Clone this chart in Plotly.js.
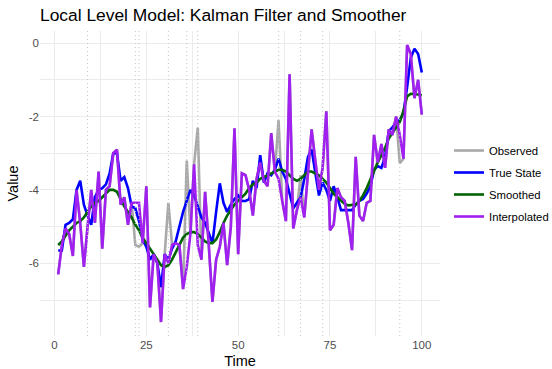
<!DOCTYPE html>
<html>
<head>
<meta charset="utf-8">
<script src="https://cdn.plot.ly/plotly-3.0.1.min.js"></script>
<style>html,body{margin:0;padding:0;background:#fff;}#chart{width:552px;height:369px;}</style>
</head>
<body>
<div id="chart"></div>
<script>
// ---- data ----
var nTime = 100;
var missingTimes = [9, 22, 23, 31, 36, 39, 61, 67, 73, 94];

var trueState = [
 -5.65,-5.65,-4.95,-4.9,-4.8,-4.0,-3.75,-4.4,-4.7,-4.95,
 -4.2,-4.0,-3.95,-3.85,-3.55,-3.0,-3.0,-3.75,-3.65,-3.95,
 -4.45,-4.5,-4.85,-5.35,-5.55,-5.9,-5.75,-6.0,-6.65,-5.75,
 -5.9,-5.6,-5.4,-5.0,-4.6,-4.3,-4.0,-4.15,-4.45,-4.75,
 -4.9,-5.2,-5.45,-4.6,-3.82,-4.35,-4.6,-4.4,-4.25,-4.15,
 -4.3,-4.3,-4.25,-3.75,-3.95,-3.05,-3.8,-3.55,-3.6,-3.45,
 -3.15,-3.5,-3.7,-4.1,-4.5,-4.35,-4.2,-3.7,-3.1,-2.9,
 -3.5,-4.15,-3.8,-4.0,-4.3,-3.9,-4.2,-4.55,-4.55,-4.55,
 -4.55,-4.4,-4.3,-4.25,-4.1,-3.9,-3.45,-3.35,-3.4,-3.1,
 -2.4,-2.3,-2.15,-2.1,-1.9,-1.2,-0.4,-0.15,-0.3,-0.8
];

var interpolated = [
 -6.3,-5.5,-5.05,-5.2,-5.8,-4.0,-4.9,-6.1,-5.0,-4.0,
 -4.9,-3.5,-5.6,-4.0,-3.9,-3.0,-2.9,-4.4,-4.2,-4.95,
 -4.35,-4.35,-4.35,-5.45,-3.9,-7.2,-5.75,-6.0,-7.6,-5.75,
 -6.0,-5.5,-5.45,-5.5,-6.7,-6.1,-5.2,-3.3,-5.5,-5.9,
 -4.05,-5.5,-7.05,-5.9,-5.55,-4.9,-6.05,-5.0,-2.32,-5.75,
 -3.55,-3.6,-4.0,-4.7,-3.7,-3.25,-3.75,-3.9,-2.45,-3.5,
 -3.7,-4.3,-4.85,-0.85,-5.05,-4.55,-4.2,-4.75,-3.5,-2.35,
 -3.2,-4.0,-3.4,-1.86,-5.1,-4.95,-3.95,-4.2,-4.3,-4.9,
 -5.64,-3.1,-4.7,-4.85,-4.35,-4.3,-2.5,-3.25,-2.75,-3.4,
 -2.35,-2.5,-2.0,-2.5,-3.15,-0.05,-0.3,-1.5,-1.0,-1.95
];

var observed = [
 -6.3,-5.5,-5.05,-5.2,-5.8,-4.0,-4.9,-6.1,-5.0,-4.0,
 -4.9,-3.5,-5.6,-4.0,-3.9,-3.0,-2.9,-4.4,-4.2,-4.95,
 -4.35,-5.5,-5.55,-5.45,-3.9,-7.2,-5.75,-6.0,-7.6,-5.75,
 -4.35,-5.5,-5.45,-5.5,-6.7,-3.2,-5.2,-3.3,-2.3,-5.9,
 -4.05,-5.5,-7.05,-5.9,-5.55,-4.9,-6.05,-5.0,-2.32,-5.75,
 -3.55,-3.6,-4.0,-4.7,-3.7,-3.25,-3.75,-3.9,-2.45,-3.5,
 -2.1,-4.3,-4.85,-0.85,-5.05,-4.55,-3.6,-4.75,-3.5,-2.35,
 -3.2,-4.0,-3.4,-1.86,-5.1,-4.95,-3.95,-4.2,-4.3,-4.9,
 -5.64,-3.1,-4.7,-4.85,-4.35,-4.3,-2.5,-3.25,-2.75,-3.4,
 -2.35,-2.5,-2.0,-3.27,-3.15,-0.05,-0.3,-1.5,-1.0,-1.95
];

var smoothed = [
 -5.5,-5.4,-5.25,-5.1,-5.0,-4.9,-4.85,-4.75,-4.6,-4.45,
 -4.35,-4.3,-4.2,-4.1,-4.0,-4.0,-4.05,-4.25,-4.45,-4.6,
 -4.75,-4.95,-5.1,-5.3,-5.45,-5.6,-5.75,-5.9,-6.05,-6.1,
 -6.05,-5.9,-5.7,-5.5,-5.3,-5.2,-5.15,-5.15,-5.2,-5.3,
 -5.4,-5.45,-5.45,-5.35,-5.15,-4.9,-4.7,-4.55,-4.4,-4.3,
 -4.2,-4.1,-3.95,-3.85,-3.8,-3.7,-3.65,-3.6,-3.55,-3.5,
 -3.45,-3.45,-3.5,-3.6,-3.7,-3.75,-3.7,-3.6,-3.5,-3.5,
 -3.55,-3.6,-3.7,-3.8,-3.95,-4.1,-4.2,-4.3,-4.38,-4.42,
 -4.42,-4.4,-4.3,-4.15,-3.95,-3.7,-3.45,-3.25,-3.05,-2.85,
 -2.6,-2.45,-2.3,-2.15,-1.85,-1.45,-1.38,-1.38,-1.4,-1.42
];

var xTickVals = [0, 25, 50, 75, 100];
var xTickText = ["0", "25", "50", "75", "100"];
var yTickVals = [-6, -4, -2, 0];
var yTickText = ["-6", "-4", "-2", "0"];

// ---- build ----
var timeIdx = [];
for (var i = 1; i <= nTime; i++) timeIdx.push(i);

var FONT = '"Liberation Sans", Arial, Helvetica, sans-serif';
var LW = 2.6;

var traces = [
  {x: timeIdx, y: observed, type: 'scatter', mode: 'lines', name: 'Observed', legendgroup: 'a',
   line: {color: '#A9A9A9', width: LW}},
  {x: timeIdx, y: trueState, type: 'scatter', mode: 'lines', name: 'True State', legendgroup: 'b',
   line: {color: '#0000FF', width: LW}},
  {x: timeIdx, y: smoothed, type: 'scatter', mode: 'lines', name: 'Smoothed', legendgroup: 'c',
   line: {color: '#006400', width: LW}},
  {x: timeIdx, y: interpolated, type: 'scatter', mode: 'lines', name: 'Interpolated', legendgroup: 'd',
   line: {color: '#A020F0', width: LW}}
];

var shapes = missingTimes.map(function (t) {
  return {type: 'line', xref: 'x', yref: 'paper', x0: t, x1: t, y0: 0, y1: 1,
          layer: 'above', line: {color: '#c4c4c4', width: 1, dash: '1px,3px'}};
});

var layout = {
  width: 552, height: 369,
  margin: {l: 40, r: 112, t: 31, b: 33, pad: 0, autoexpand: false},
  paper_bgcolor: '#ffffff', plot_bgcolor: '#ffffff',
  font: {family: FONT, color: '#000000'},
  title: {text: 'Local Level Model: Kalman Filter and Smoother',
          font: {family: FONT, size: 17.4, color: '#000000'},
          x: 0, xref: 'paper', xanchor: 'left',
          y: 1 - 15 / 369, yref: 'container', yanchor: 'middle'},
  xaxis: {range: [-3.95, 104.95], tickvals: xTickVals, ticktext: xTickText,
          showgrid: true, gridcolor: '#ebebeb', gridwidth: 1, zeroline: false,
          showline: false, ticks: '', ticklen: 0, automargin: false,
          tickfont: {family: FONT, size: 11.5, color: '#4d4d4d'},
          minor: {dtick: 12.5, tick0: 0, showgrid: true, gridcolor: '#ebebeb', gridwidth: 1},
          title: {text: 'Time', font: {family: FONT, size: 14.5, color: '#000000'}, standoff: 6}},
  yaxis: {range: [-7.98, 0.33], tickvals: yTickVals, ticktext: yTickText,
          showgrid: true, gridcolor: '#ebebeb', gridwidth: 1, zeroline: false,
          showline: false, ticks: '', ticklen: 0, automargin: false,
          tickfont: {family: FONT, size: 11.5, color: '#4d4d4d'},
          minor: {dtick: 1, tick0: 0, showgrid: true, gridcolor: '#ebebeb', gridwidth: 1},
          title: {text: 'Value', font: {family: FONT, size: 14.5, color: '#000000'}, standoff: 6}},
  showlegend: true,
  legend: {x: 1.0225, xanchor: 'left', y: 0.5, yanchor: 'middle',
           traceorder: 'grouped', tracegroupgap: 3,
           font: {family: FONT, size: 11.3, color: '#000000'},
           bgcolor: 'rgba(0,0,0,0)', borderwidth: 0, itemwidth: 30},
  shapes: shapes
};

Plotly.newPlot('chart', traces, layout, {displayModeBar: false, staticPlot: true});
</script>
</body>
</html>
